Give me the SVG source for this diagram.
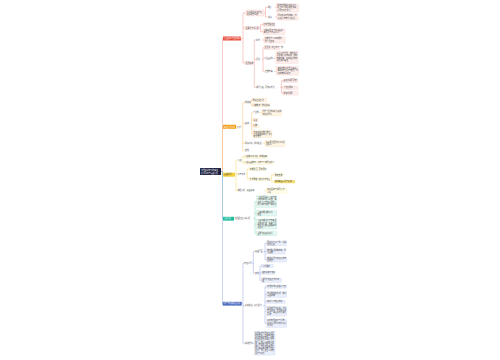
<svg xmlns="http://www.w3.org/2000/svg" width="500" height="360" viewBox="0 0 500 360">
<style>
text{font-family:"Noto Sans CJK SC","Liberation Sans",sans-serif;font-size:1.9px;fill:#444}
.w{fill:#fff}
.c path{fill:none;stroke-width:0.45}
.cr{stroke:#ef8f86}.co{stroke:#f5bd6a}.cy{stroke:#f2d55a}.cg{stroke:#6fd3bd}.cb{stroke:#8a9fdf}
.rb{fill:#fdeeec;stroke:#f5b9b2;stroke-width:0.25}
.ob{fill:#fef5e6;stroke:#f9d79e;stroke-width:0.25}
.yb{fill:#fefbe6;stroke:#f6e79a;stroke-width:0.25}
.gb{fill:#e7f8f3;stroke:#8fdcc8;stroke-width:0.25}
.bb{fill:#ebeffb;stroke:#b2c1ee;stroke-width:0.25}
</style>
<rect width="500" height="360" fill="#fff"/>
<g class="c" id="connectors">
<path class="cr" d="M221,171.5H222.5V38.5H223"/>
<path class="co" d="M221,171.5H222.5V126.8H223"/>
<path class="cy" d="M221,171.5H222.5V174.7H223"/>
<path class="cg" d="M221,171.5H222.5V218.7H223"/>
<path class="cb" d="M221,171.5H222.5V303.7H223"/>
<path class="cr" d="M241,38.5H243M243,13V63M243,13H246M243,28H245M243,63H245"/>
<path class="cr" d="M264,13H265.5M265.5,7.5V17M265.5,7.5H267.5M265.5,17H267.5M275,7.5H276.5M275,17H277"/>
<path class="cr" d="M259,28H260.5M260.5,24.7V31.7M260.5,24.7H263M260.5,31.7H263"/>
<path class="cr" d="M253,63H254.3M254.3,40V87.3M254.3,40H256M254.3,59.3H256M254.3,87.3H256M262,40H264"/>
<path class="cr" d="M262,59.3H263M263,47.7V71.7M263,47.7H264M263,58.3H265M263,71.7H265M273,58.3H276M274,71.7H276.7"/>
<path class="cr" d="M280,87.3H281.5M281.5,80.7V93.3M281.5,80.7H283M281.5,87.7H283M281.5,93.3H283"/>
<path class="co" d="M236,126.8H236.7M240.7,126.8H242.7M242.7,102.7V150.7M242.7,102.7H245M242.7,123.3H245M242.7,143.3H245M242.7,150.7H245"/>
<path class="co" d="M250,102.7H251M251,100V105.3M251,100H252M251,105.3H252"/>
<path class="co" d="M250,123.3H251.7M251.7,112.7V134M251.7,112.7H253M251.7,120H253M251.7,125.7H253M251.7,134H253M259,112.7H261.7"/>
<path class="co" d="M262.7,143.3H265"/>
<path class="cy" d="M235,174.7H236M236,160V190.7M236,160H237.7M236,174H237.7M236,190.7H237.7"/>
<path class="cy" d="M241.2,160H242.3M242.3,156.7V162.7M242.3,156.7H244M242.3,162.7H244"/>
<path class="cy" d="M246,174H247.3M247.3,169V179M247.3,169H249.3M247.3,179H249.3M270,179H271.7M271.7,175V181.7M271.7,175H274.3M271.7,181.7H274.3"/>
<path class="cy" d="M264.3,190.7H266.7"/>
<path class="cg" d="M234,218.7H235M253.3,218.7H255M255,201.7V233.7M255,201.7H256.7M255,213.3H256.7M255,224.2H256.7M255,233.7H256.7"/>
<path class="cb" d="M241.7,303.7H243M243,263.3V343.3M243,263.3H244M243,305.7H245M243,343.3H245"/>
<path class="cb" d="M251.7,263.3H253.3M253.3,251.7V273.3M253.3,251.7H255M253.3,273.3H255"/>
<path class="cb" d="M263.3,251.7H265M265,243.3V259.6M265,243.3H266.7M265,251.5H266.7M265,259.6H266.7"/>
<path class="cb" d="M258.3,273.3H260M260,266V280.3M260,266H261.7M260,272.7H261.7M260,280.3H261.7"/>
<path class="cb" d="M262.7,305.7H265M265,286.7V323.3M265,286.7H266.7M265,294.5H266.7M265,301.7H266.7M265,311.3H266.7M265,323.3H266.7"/>
<path class="cb" d="M252.7,343.3H254.3"/>
</g>
<g id="root"><rect x="200" y="168" width="21" height="7" rx="0.5" fill="#1c1f3f"/><text class="w" x="201" y="171.2">新零售背景下的商业</text><text class="w" x="201" y="173.6">模式创新与运营分析</text></g>
<g id="red"><rect x="223" y="36.5" width="18" height="4" fill="#e74c3c"/><text class="w" x="224" y="39.2">行业现状与发展概述</text></g>
<g id="r1"><rect class="rb" x="246" y="10" width="18" height="6"/><text x="246.8" y="12.5">市场规模持续扩大，</text><text x="246.8" y="14.8">增速趋于平稳</text></g>
<g id="r1a"><text x="267.7" y="8.2">规模</text><rect class="rb" x="276.5" y="4" width="22" height="8"/><text x="277.3" y="6.2">整体交易规模突破万亿，</text><text x="277.3" y="8.4">线上线下融合程度加深，</text><text x="277.3" y="10.6">渗透率逐年提升</text></g>
<g id="r1b"><text x="268" y="17.7">增速</text><rect class="rb" x="277" y="14" width="21" height="6"/><text x="277.8" y="16.4">同比增速有所放缓，市</text><text x="277.8" y="18.7">场进入存量竞争阶段</text></g>
<g id="r2"><rect class="rb" x="245" y="26.5" width="14" height="3"/><text x="245.6" y="28.7">主要参与者分析</text></g>
<g id="r2a"><rect class="rb" x="263" y="23" width="12" height="3.4"/><text x="263.6" y="25.3">传统零售企业</text></g>
<g id="r2b"><rect class="rb" x="263" y="29" width="22" height="5.4"/><text x="263.7" y="31.2">互联网平台与新兴品牌</text><text x="263.7" y="33.4">共同参与市场竞争</text></g>
<g id="r3"><rect class="rb" x="245" y="61.5" width="8" height="3"/><text x="245.5" y="63.7">发展趋势</text></g>
<g id="r3a"><text x="256" y="40.7">技术</text><rect class="rb" x="264" y="37" width="21" height="6"/><text x="264.7" y="39.4">大数据与人工智能技</text><text x="264.7" y="41.7">术广泛应用</text></g>
<g id="r3b"><text x="256" y="60">渠道</text></g>
<g id="r3b1"><rect class="rb" x="264" y="46" width="16" height="3.4"/><text x="264.5" y="48.4">全渠道 - 线上线下一体</text></g>
<g id="r3b2"><text x="265" y="59">社区团购</text><rect class="rb" x="276" y="51.7" width="22" height="11.6"/><text x="276.7" y="53.9">以社区为单位，依托线上</text><text x="276.7" y="56.2">平台进行集中采购，降低</text><text x="276.7" y="58.5">物流成本，提高配送效率，</text><text x="276.7" y="60.8">增强用户黏性</text></g>
<g id="r3b3"><text x="265" y="72.4">直播电商</text><rect class="rb" x="276.7" y="66.7" width="21.5" height="8.3"/><text x="277.4" y="68.9">借助直播形式展示商品，</text><text x="277.4" y="71.2">实现即时互动与转化，带</text><text x="277.4" y="73.5">动销量快速增长</text></g>
<g id="r3c"><text x="256" y="88">消费升级 - 需求多样化</text></g>
<g id="r3c1"><rect class="rb" x="283" y="79" width="15" height="3.4"/><text x="283.5" y="81.4">品质化消费需求</text></g>
<g id="r3c2"><rect class="rb" x="283" y="86" width="15" height="3.4"/><text x="283.5" y="88.4">个性化服务</text></g>
<g id="r3c3"><rect class="rb" x="283" y="91.6" width="15" height="3.4"/><text x="283.5" y="94">体验式消费</text></g>
<g id="orange"><rect x="223" y="124.8" width="13" height="4" fill="#f39c12"/><text class="w" x="223.8" y="127.5">商业模式创新</text></g>
<g id="o0"><text x="236.8" y="127.5">模式</text></g>
<g id="o1"><text x="245" y="103.4">供应链</text></g>
<g id="o1a"><rect class="ob" x="252" y="98.5" width="15" height="3"/><text x="252.5" y="100.7">源头直采模式</text></g>
<g id="o1b"><rect class="ob" x="252" y="103.8" width="18" height="3"/><text x="252.5" y="106">仓储物流一体化建设</text></g>
<g id="o2"><text x="245" y="124">营销</text></g>
<g id="o2a"><text x="253" y="113.4">会员制</text><rect class="ob" x="261.7" y="110" width="20" height="5.7"/><text x="262.4" y="112.3">付费会员体系提升复购</text><text x="262.4" y="114.6">率和客单价</text></g>
<g id="o2b"><rect class="ob" x="253" y="118.5" width="5" height="3"/><text x="253.4" y="120.7">私域</text></g>
<g id="o2c"><rect class="ob" x="253" y="124.2" width="6" height="3"/><text x="253.4" y="126.4">社群</text></g>
<g id="o2d"><rect class="ob" x="253" y="130.7" width="18.7" height="7"/><text x="253.6" y="132.8">内容营销与种草推广，</text><text x="253.6" y="135">打造品牌影响力，提升</text><text x="253.6" y="137.2">转化效果</text></g>
<g id="o3"><text x="245" y="144">服务创新 - 即时配送</text><rect class="ob" x="265" y="140.7" width="20" height="6"/><text x="265.7" y="143">三公里范围内半小时送</text><text x="265.7" y="145.3">达服务</text></g>
<g id="o4"><text x="245" y="151.4">其他</text></g>
<g id="yellow"><rect x="223" y="172.7" width="12" height="4" fill="#f4d03f"/><text x="223.8" y="175.4">运营管理</text></g>
<g id="y1"><text x="237.7" y="160.7">门店</text></g>
<g id="y1a"><rect class="yb" x="244" y="155.2" width="24" height="3"/><text x="244.5" y="157.4">门店数字化改造 - 智能设备</text></g>
<g id="y1b"><rect class="yb" x="244" y="161.2" width="29" height="3"/><text x="244.5" y="163.4">门店运营效率 - 坪效与人效同步提升</text></g>
<g id="y2"><text x="237.7" y="174.7">库存管理</text></g>
<g id="y2a"><rect class="yb" x="249.3" y="167.5" width="15.7" height="3"/><text x="249.8" y="169.7">智能补货 - 需求预测</text></g>
<g id="y2b"><rect class="yb" x="249.3" y="177.5" width="20.7" height="3"/><text x="249.8" y="179.7">库存周转 - 降低库存积压</text></g>
<g id="y2b1"><rect class="yb" x="274.3" y="173.5" width="9" height="3"/><text x="274.8" y="175.7">周转天数</text></g>
<g id="y2b2"><rect x="274.3" y="180.2" width="20.7" height="3" fill="#f7dc6f"/><text x="274.8" y="182.4">滞销商品清理与促销</text></g>
<g id="y3"><text x="237.7" y="191.4">数据分析 - 经营决策</text><rect class="yb" x="266.7" y="188.3" width="20" height="5"/><text x="267.3" y="190.4">用户画像与消费行为</text><text x="267.3" y="192.5">分析</text></g>
<g id="green"><rect x="223" y="216.8" width="11" height="3.8" fill="#1abc9c"/><text class="w" x="223.7" y="219.4">案例分析</text></g>
<g id="g0"><text x="235" y="219.4">典型企业案例分析</text></g>
<g id="g1"><rect class="gb" x="256.7" y="196" width="20" height="11.3"/><text x="257.4" y="198.1">某生鲜平台以门店为中</text><text x="257.4" y="200.3">心构建前置仓网络，实</text><text x="257.4" y="202.5">现线上订单快速履约，</text><text x="257.4" y="204.7">提升用户体验与满意度</text></g>
<g id="g2"><rect class="gb" x="256.7" y="210.7" width="20" height="5.3"/><text x="257.4" y="212.8">某商超推进数字化</text><text x="257.4" y="215">转型</text></g>
<g id="g3"><rect class="gb" x="256.7" y="219.3" width="20" height="9.7"/><text x="257.4" y="221.4">某品牌通过社交电商渠</text><text x="257.4" y="223.6">道快速扩张，借助会员</text><text x="257.4" y="225.8">体系与社群运营实现持</text><text x="257.4" y="228">续增长</text></g>
<g id="g4"><rect class="gb" x="256.7" y="231.7" width="20" height="4"/><text x="257.4" y="233.5">某便利店品牌连锁</text><text x="257.4" y="235.4">化</text></g>
<g id="blue"><rect x="222.7" y="301.8" width="19" height="3.8" fill="#4a69bd"/><text class="w" x="223.4" y="304.4">问题与对策建议分析</text></g>
<g id="b1"><text x="244" y="264">存在问题</text></g>
<g id="b1a"><text x="255" y="252.4">经营层面</text></g>
<g id="b1a1"><rect class="bb" x="266.7" y="241" width="20" height="4.7"/><text x="267.3" y="243">同质化竞争严重，利润</text><text x="267.3" y="245">空间压缩</text></g>
<g id="b1a2"><rect class="bb" x="266.7" y="249" width="18.3" height="5"/><text x="267.3" y="251.1">物流配送成本较高，盈</text><text x="267.3" y="253.2">利困难</text></g>
<g id="b1a3"><rect class="bb" x="266.7" y="257.3" width="20" height="4.7"/><text x="267.3" y="259.3">数据安全与隐私保护存</text><text x="267.3" y="261.3">在隐患</text></g>
<g id="b1b"><text x="255" y="274">其他</text></g>
<g id="b1b1"><rect class="bb" x="261.7" y="264.5" width="11.6" height="3"/><text x="262.2" y="266.7">人才短缺</text></g>
<g id="b1b2"><rect class="bb" x="261.7" y="271.2" width="12.6" height="3"/><text x="262.2" y="273.4">监管政策不完善</text></g>
<g id="b1b3"><rect class="bb" x="261.7" y="278.3" width="20" height="4"/><text x="262.3" y="280">消费者信任度有待提</text><text x="262.3" y="281.9">高</text></g>
<g id="b2"><text x="245" y="306.4">对策建议 - 多方发力</text></g>
<g id="b2a"><rect class="bb" x="266.7" y="285.2" width="20" height="3"/><text x="267.3" y="287.4">加强技术研发投入力度</text></g>
<g id="b2b"><rect class="bb" x="266.7" y="291.7" width="20" height="5.6"/><text x="267.3" y="293.9">优化供应链管理，降低</text><text x="267.3" y="296.1">运营成本</text></g>
<g id="b2c"><rect class="bb" x="266.7" y="300.2" width="18.3" height="3"/><text x="267.3" y="302.4">完善人才培养体系</text></g>
<g id="b2d"><rect class="bb" x="266.7" y="306.7" width="20" height="9.3"/><text x="267.3" y="308.8">注重差异化经营，打造</text><text x="267.3" y="311">特色品牌，提升核心竞</text><text x="267.3" y="313.2">争力，满足多样化消费</text><text x="267.3" y="315.3">需求</text></g>
<g id="b2e"><rect class="bb" x="266.7" y="319.3" width="20" height="8"/><text x="267.3" y="321.4">政府加强监管与引导，</text><text x="267.3" y="323.6">营造公平有序的市场竞</text><text x="267.3" y="325.8">争环境</text></g>
<g id="b3"><text x="245" y="344">总结展望</text></g>
<g id="b3a"><rect class="bb" x="254.3" y="331.7" width="20.7" height="23.3"/><text x="255" y="333.8">新零售作为零售业发展</text><text x="255" y="336">的新方向，正深刻改变</text><text x="255" y="338.2">着传统商业格局。未来</text><text x="255" y="340.4">企业应坚持以消费者为</text><text x="255" y="342.6">中心，充分运用数字技</text><text x="255" y="344.8">术，推动线上线下深度</text><text x="255" y="347">融合，不断创新商业模</text><text x="255" y="349.2">式，实现高质量可持续</text><text x="255" y="351.4">发展，为行业注入新的</text><text x="255" y="353.6">活力与动力</text></g>
</svg>
